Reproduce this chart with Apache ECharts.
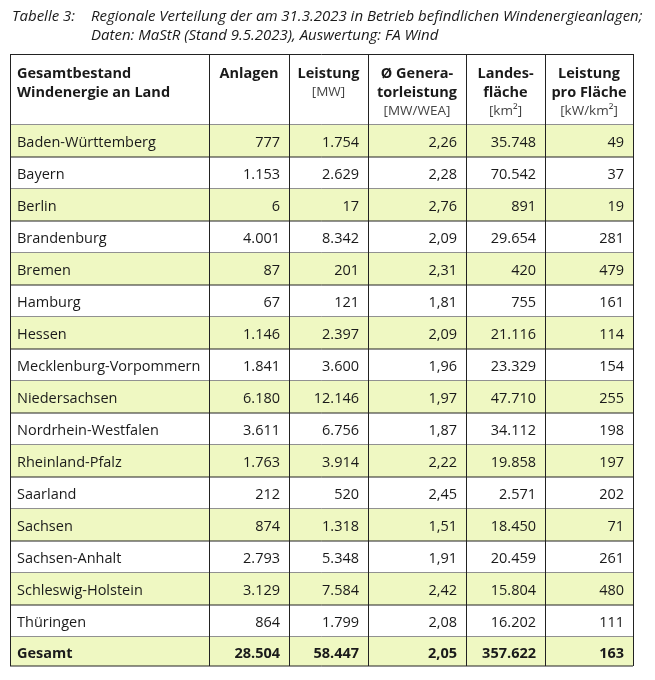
<!DOCTYPE html>
<html><head><meta charset="utf-8">
<script src="https://cdn.jsdelivr.net/npm/echarts@6/dist/echarts.min.js"></script>
<style>html,body{margin:0;padding:0;background:#fff}#c{width:655px;height:680px}</style>
</head><body><div id="c"></div>
<script>
const titleLabel = 'Tabelle 3:';
const titleLines = ['Regionale Verteilung der am 31.3.2023 in Betrieb befindlichen Windenergieanlagen;', 'Daten: MaStR (Stand 9.5.2023), Auswertung: FA Wind'];
const headers = [
  ['Gesamtbestand', 'Windenergie an Land'],
  ['Anlagen'],
  ['Leistung', '[MW]'],
  ['Ø Genera-', 'torleistung', '[MW/WEA]'],
  ['Landes-', 'fläche', '[km²]'],
  ['Leistung', 'pro Fläche', '[kW/km²]']
];
const headerBoldLines = [2, 1, 1, 2, 2, 2];
const states = ['Baden-Württemberg','Bayern','Berlin','Brandenburg','Bremen','Hamburg','Hessen','Mecklenburg-Vorpommern','Niedersachsen','Nordrhein-Westfalen','Rheinland-Pfalz','Saarland','Sachsen','Sachsen-Anhalt','Schleswig-Holstein','Thüringen','Gesamt'];
const anlagen = ['777','1.153','6','4.001','87','67','1.146','1.841','6.180','3.611','1.763','212','874','2.793','3.129','864','28.504'];
const leistung = ['1.754','2.629','17','8.342','201','121','2.397','3.600','12.146','6.756','3.914','520','1.318','5.348','7.584','1.799','58.447'];
const generator = ['2,26','2,28','2,76','2,09','2,31','1,81','2,09','1,96','1,97','1,87','2,22','2,45','1,51','1,91','2,42','2,08','2,05'];
const flaeche = ['35.748','70.542','891','29.654','420','755','21.116','23.329','47.710','34.112','19.858','2.571','18.450','20.459','15.804','16.202','357.622'];
const proFlaeche = ['49','37','19','281','479','161','114','154','255','198','197','202','71','261','480','111','163'];

// layout (not data)
const colEdges = [0, 199, 279, 358, 456, 535, 623];
const HDR = -71/32;          // header spans [HDR, 0] in row units
const LAST_H = 29/32;
const GREEN = '#eff8c2';
const FONT = '"Open Sans", "Noto Sans", sans-serif';
const TXT = '#1a1a1a';

const cols = [states, anlagen, leistung, generator, flaeche, proFlaeche];
const rows = states.map((s, i) => ({ value: [i], cells: cols.map(c => c[i]) }));

function renderRow(params, api) {
  const i = api.value(0);
  const top = i;
  const bot = (i === states.length - 1) ? i + LAST_H : i + 1;
  const green = (i % 2 === 0);
  const bold = (i === states.length - 1);
  const children = [];
  const y0 = api.coord([0, top])[1];
  const y1 = api.coord([0, bot])[1];
  const cy = (y0 + y1) / 2 + 2;
  for (let c = 0; c < 6; c++) {
    const x0 = api.coord([colEdges[c], 0])[0];
    const x1 = api.coord([colEdges[c + 1], 0])[0];
    if (green) {
      children.push({ type: 'rect', shape: { x: x0, y: y0, width: x1 - x0, height: y1 - y0 }, style: { fill: GREEN } });
    }
    children.push({
      type: 'text',
      style: {
        text: rows[i].cells[c],
        x: c === 0 ? x0 + 7 : x1 - 9,
        y: cy,
        align: c === 0 ? 'left' : 'right',
        verticalAlign: 'middle',
        font: (bold ? 'bold ' : '') + '14.5px ' + FONT,
        fill: TXT
      }
    });
  }
  // borders
  const xl = api.coord([colEdges[0], 0])[0], xr = api.coord([colEdges[6], 0])[0];
  children.push({ type: 'line', shape: { x1: xl, y1: y1, x2: xr, y2: y1 }, style: { stroke: '#222', lineWidth: 1 } });
  colEdges.forEach(e => {
    const x = Math.round(api.coord([e, 0])[0]) + 0.5;
    children.push({ type: 'line', shape: { x1: x, y1: y0, x2: x, y2: y1 }, style: { stroke: '#222', lineWidth: 1 } });
  });
  return { type: 'group', children };
}

function renderHeader(params, api) {
  const y0 = api.coord([0, HDR])[1];
  const y1 = api.coord([0, 0])[1];
  const children = [];
  const xl = api.coord([colEdges[0], 0])[0], xr = api.coord([colEdges[6], 0])[0];
  for (let c = 0; c < 6; c++) {
    const x0 = api.coord([colEdges[c], 0])[0];
    const x1 = api.coord([colEdges[c + 1], 0])[0];
    headers[c].forEach((line, k) => {
      const isBold = k < headerBoldLines[c];
      children.push({
        type: 'text',
        style: {
          text: line,
          x: c === 0 ? x0 + 7 : (x0 + x1) / 2,
          y: y0 + 19.5 + k * 19,
          align: c === 0 ? 'left' : 'center',
          verticalAlign: 'middle',
          font: (isBold ? 'bold 14.5px ' : '13.5px ') + FONT,
          fill: isBold ? TXT : '#444'
        }
      });
    });
  }
  children.push({ type: 'line', shape: { x1: xl, y1: Math.round(y0) + 0.5, x2: xr, y2: Math.round(y0) + 0.5 }, style: { stroke: '#222', lineWidth: 1 } });
  children.push({ type: 'line', shape: { x1: xl, y1: y1, x2: xr, y2: y1 }, style: { stroke: '#222', lineWidth: 1 } });
  colEdges.forEach(e => {
    const x = Math.round(api.coord([e, 0])[0]) + 0.5;
    children.push({ type: 'line', shape: { x1: x, y1: y0, x2: x, y2: y1 }, style: { stroke: '#222', lineWidth: 1 } });
  });
  return { type: 'group', children };
}

const chart = echarts.init(document.getElementById('c'), null, { renderer: 'canvas' });
chart.setOption({
  animation: false,
  backgroundColor: '#fff',
  title: [
    { text: titleLabel, left: 12, top: 7, padding: 0, textStyle: { fontFamily: FONT, fontStyle: 'italic', fontWeight: 'normal', fontSize: 15, color: TXT, lineHeight: 19 } },
    { text: titleLines.join('\n'), left: 91, top: 7, padding: 0, textStyle: { fontFamily: FONT, fontStyle: 'italic', fontWeight: 'normal', fontSize: 15, color: TXT, lineHeight: 19 } }
  ],
  grid: { left: 10, right: 22, top: 54, bottom: 14 },
  xAxis: { type: 'value', min: 0, max: colEdges[6], show: false },
  yAxis: { type: 'value', inverse: true, min: HDR, max: states.length - 1 + LAST_H, show: false },
  series: [
    { type: 'custom', renderItem: renderHeader, data: [[0]], clip: false },
    { type: 'custom', renderItem: renderRow, data: rows, clip: false }
  ]
});
</script></body></html>
